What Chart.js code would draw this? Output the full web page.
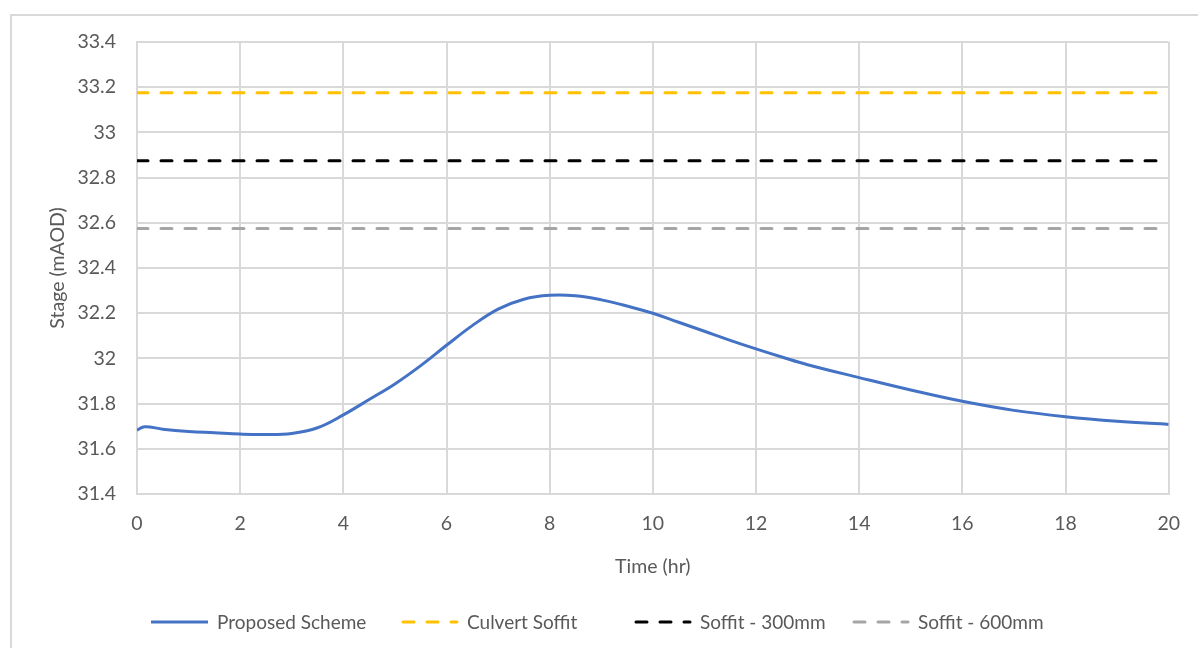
<!DOCTYPE html>
<html>
<head>
<meta charset="utf-8">
<title>Stage hydrograph</title>
<script src="https://cdn.jsdelivr.net/npm/chart.js@4.4.1/dist/chart.umd.min.js"></script>
<style>
  html, body { margin: 0; padding: 0; background: #ffffff; overflow: hidden; }
  #wrap { position: relative; width: 1198px; height: 648px; }
  #frame {
    position: absolute; left: 10px; top: 14px; width: 1300px; height: 700px;
    border-left: 2px solid #D9D9D9; border-top: 2px solid #D9D9D9;
  }
  canvas { position: absolute; left: 0; top: 0; }
</style>
</head>
<body>
<div id="wrap">
  <div id="frame"></div>
  <canvas id="chart" width="1198" height="648"></canvas>
</div>
<script>
// Time axis (hours) and modelled stage (mAOD) for the proposed scheme
const timeHr = [0, 0.15, 0.5, 1, 1.5, 2, 2.5, 3, 3.5, 4, 4.5, 5, 5.5, 6, 6.5, 7, 7.5, 8, 8.5,
                9, 9.5, 10, 10.5, 11, 11.5, 12, 12.5, 13, 14, 15, 16, 17, 18, 19, 20];
const proposedStage = [31.683, 31.698, 31.687, 31.677, 31.671, 31.665, 31.663, 31.668, 31.693,
                       31.750, 31.818, 31.887, 31.968, 32.058, 32.145, 32.218, 32.262, 32.279,
                       32.277, 32.259, 32.232, 32.200, 32.160, 32.120, 32.080, 32.042, 32.006,
                       31.972, 31.915, 31.860, 31.810, 31.770, 31.742, 31.722, 31.708];

// Fixed reference levels
const culvertSoffit = 33.175;
const soffit300 = 32.875;
const soffit600 = 32.575;
const levelSpan = [0, 20];

// Tick labels
const xTicks = [0, 2, 4, 6, 8, 10, 12, 14, 16, 18, 20];
const yTicks = [31.4, 31.6, 31.8, 32, 32.2, 32.4, 32.6, 32.8, 33, 33.2, 33.4];

const seriesNames = ['Proposed Scheme', 'Culvert Soffit', 'Soffit - 300mm', 'Soffit - 600mm'];

const FONT = 'Lato, "Open Sans", sans-serif';
const TEXT = '#595959';
const GRID = '#D9D9D9';

const toXY = (xs, ys) => xs.map((x, i) => ({ x: x, y: ys[i] }));
const flat = (v) => levelSpan.map(x => ({ x: x, y: v }));

const dash = [11, 13];
const plotClip = { left: 0, right: 0, top: 3, bottom: 3 };

// Legend drawn on the canvas below the axis title
const bottomLegend = {
  id: 'bottomLegend',
  afterDraw(chart) {
    const ctx = chart.ctx;
    const textStarts = [217, 467, 700, 918];
    const lineLen = 57, gap = 9, y = 622;
    ctx.save();
    ctx.font = '19px ' + FONT;
    ctx.textBaseline = 'middle';
    ctx.textAlign = 'left';
    chart.data.datasets.forEach((ds, i) => {
      const tx = textStarts[i];
      ctx.beginPath();
      ctx.strokeStyle = ds.borderColor;
      ctx.lineWidth = ds.borderWidth;
      ctx.lineCap = ds.borderCapStyle || 'butt';
      ctx.setLineDash(ds.borderDash || []);
      ctx.moveTo(tx - gap - lineLen + (ds.borderDash ? 2 : 0), y);
      ctx.lineTo(tx - gap - (ds.borderDash ? 1 : 0), y);
      ctx.stroke();
      ctx.setLineDash([]);
      ctx.fillStyle = TEXT;
      ctx.fillText(ds.label, tx, y + 1);
    });
    ctx.restore();
  }
};

new Chart(document.getElementById('chart'), {
  type: 'line',
  data: {
    datasets: [
      {
        label: seriesNames[0],
        data: toXY(timeHr, proposedStage),
        borderColor: '#4472C4',
        borderWidth: 3,
        pointRadius: 0,
        tension: 0.4,
        clip: plotClip,
        order: 0
      },
      {
        label: seriesNames[1],
        data: flat(culvertSoffit),
        borderColor: '#FFC000',
        borderWidth: 3,
        borderDash: dash,
        borderCapStyle: 'round',
        pointRadius: 0,
        clip: plotClip,
        order: 1
      },
      {
        label: seriesNames[2],
        data: flat(soffit300),
        borderColor: '#000000',
        borderWidth: 3,
        borderDash: dash,
        borderCapStyle: 'round',
        pointRadius: 0,
        clip: plotClip,
        order: 2
      },
      {
        label: seriesNames[3],
        data: flat(soffit600),
        borderColor: '#A5A5A5',
        borderWidth: 3,
        borderDash: dash,
        borderCapStyle: 'round',
        pointRadius: 0,
        clip: plotClip,
        order: 3
      }
    ]
  },
  options: {
    responsive: false,
    animation: false,
    layout: { padding: { left: 0, right: 27, top: 42, bottom: 64 } },
    plugins: {
      legend: { display: false },
      tooltip: { enabled: false }
    },
    scales: {
      x: {
        type: 'linear',
        min: 0,
        max: 20,
        afterBuildTicks: (s) => { s.ticks = xTicks.map(v => ({ value: v })); },
        afterFit: (s) => { s.height = 90; },
        grid: { color: GRID, lineWidth: 2, drawTicks: false },
        border: { color: GRID, width: 2 },
        ticks: {
          color: TEXT,
          padding: 18,
          maxRotation: 0,
          font: { family: FONT, size: 19.5 },
          callback: (v) => String(v)
        },
        title: {
          display: true,
          text: 'Time (hr)',
          color: TEXT,
          font: { family: FONT, size: 19.5 },
          padding: { top: 0, bottom: 6 }
        }
      },
      y: {
        min: 31.4,
        max: 33.4,
        afterBuildTicks: (s) => { s.ticks = yTicks.map(v => ({ value: v })); },
        afterFit: (s) => { s.width = 137; },
        grid: { color: GRID, lineWidth: 2, drawTicks: false },
        border: { color: GRID, width: 2 },
        ticks: {
          color: TEXT,
          padding: 21,
          font: { family: FONT, size: 19.5 },
          callback: (v) => String(Number(v.toFixed(1)))
        },
        title: {
          display: true,
          text: 'Stage (mAOD)',
          color: TEXT,
          font: { family: FONT, size: 19.5 },
          padding: { top: 46, bottom: 0 }
        }
      }
    }
  },
  plugins: [bottomLegend]
});
</script>
</body>
</html>
